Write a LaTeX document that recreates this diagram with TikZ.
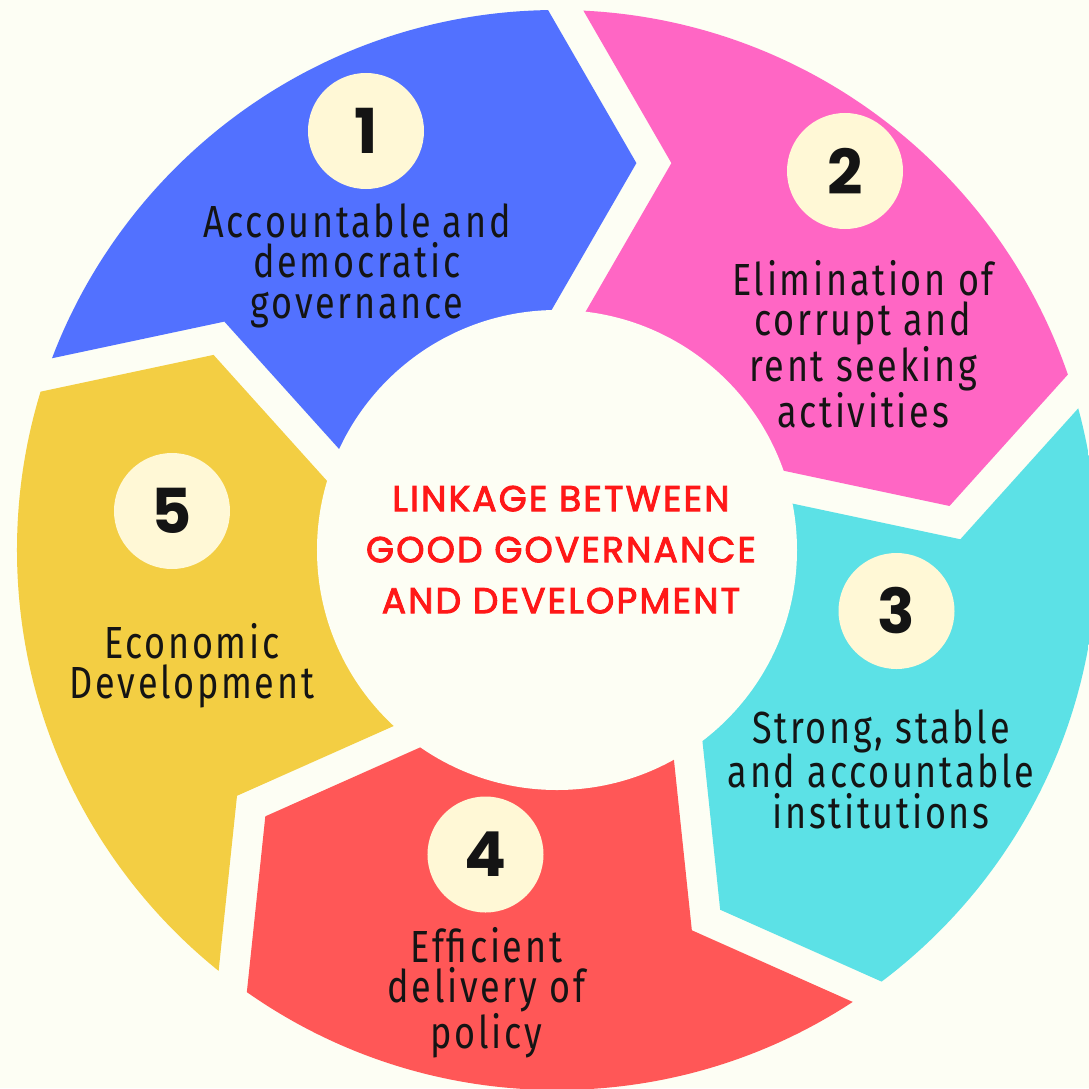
\documentclass[tikz,border=0pt]{standalone}
\usepackage{fontspec}
\usetikzlibrary{calc}
\setmainfont{Fira Sans}
\newfontfamily\labelfont{Fira Sans}[FakeStretch=0.8, LetterSpace=6]
\newfontfamily\numfont{Poppins}
\newfontfamily\headfont{Poppins}[FakeBold=2.6, LetterSpace=6]
\definecolor{bgcream}{HTML}{FDFEF4}
\definecolor{segblue}{HTML}{5271FF}
\definecolor{segpink}{HTML}{FF66C4}
\definecolor{segcyan}{HTML}{5CE1E6}
\definecolor{segred}{HTML}{FF5757}
\definecolor{segyellow}{HTML}{F3CE43}
\definecolor{numcream}{HTML}{FFF8D6}
\definecolor{inkdark}{HTML}{141414}
\definecolor{titlered}{HTML}{FF1818}

\tikzset{
  numdisc/.style={circle, fill=numcream, minimum size=116pt, inner sep=0pt,
    text=inkdark, font=\numfont\bfseries\fontsize{62}{62}\selectfont},
  steplabel/.style={anchor=north, align=center, inner sep=0pt, text=inkdark,
    font=\labelfont\fontsize{45}{40.5}\selectfont},
  hubtitle/.style={anchor=north, align=center, inner sep=0pt, text=titlered,
    font=\headfont\fontsize{36}{51}\selectfont}
}

\begin{document}
\begin{tikzpicture}[x=1pt, y=1pt]
  % canvas
  \fill[bgcream] (-557,-538) rectangle (532,550);
  \useasboundingbox (-557,-538) rectangle (532,550);

  % arrow tips on the mid radius, one every 72 degrees (clockwise order)
  \foreach \k in {0,...,4} {
    \coordinate (T\k) at ({78.4-72*\k}:395);
  }
  % notch of each segment: previous tip moved along its axis by the gap
  \foreach \k in {0,...,4} {
    \pgfmathtruncatemacro\p{mod(\k+4,5)}
    \coordinate (N\k) at ($(T\p)+({-72*\p}:35)$);
  }

  % ring segments
  \begin{scope}
    \clip (0,0) circle (540);
    \foreach \k/\col in {0/segblue,1/segpink,2/segcyan,3/segred,4/segyellow} {
      \pgfmathsetmacro\a{78.4-72*\k}
      \pgfmathsetmacro\b{-72*\k}
      \pgfmathtruncatemacro\p{mod(\k+4,5)}
      \pgfmathsetmacro\bp{-72*\p}
      \fill[\col] (0,0)
        -- ($(T\k)+({\b+240}:250)$) -- (T\k) -- ($(T\k)+({\b+120}:420)$)
        -- ({\a+37}:1000) -- ({\a+57}:1000) -- ({\a+77}:1000)
        -- ($(N\k)+({\bp+120}:420)$) -- (N\k) -- ($(N\k)+({\bp+240}:250)$)
        -- cycle;
    }
  \end{scope}

  % central disc and title
  \node[circle, fill=bgcream, minimum size=480pt, inner sep=0pt] (hub) at (0,0) {};
  \node[hubtitle] (title) at (4,69)
    {\rule{0pt}{30pt}LINKAGE BETWEEN\\GOOD GOVERNANCE\\AND DEVELOPMENT};

  % numbered discs
  \node[numdisc] (n1) at (-191,419) {1};
  \node[numdisc] (n2) at (288,379) {2};
  \node[numdisc] (n3) at (339.5,-61) {3};
  \node[numdisc] (n4) at (-71.5,-304.5) {4};
  \node[numdisc] (n5) at (-385,39) {5};

  % step labels
  \node[steplabel] (l1) at (-200,353)
    {\rule{0pt}{40pt}Accountable and\\democratic\\governance};
  \node[steplabel] (l2) at (306,295)
    {\rule{0pt}{40pt}Elimination of\\corrupt and\\rent seeking\\activities};
  \node[steplabel] (l3) at (324,-153)
    {\rule{0pt}{40pt}Strong, stable\\and accountable\\institutions};
  \node[steplabel] (l4) at (-70.5,-372)
    {\rule{0pt}{40pt}Efficient\\delivery of\\policy};
  \node[steplabel] (l5) at (-365,-68)
    {\rule{0pt}{40pt}Economic\\Development};
\end{tikzpicture}
\end{document}
